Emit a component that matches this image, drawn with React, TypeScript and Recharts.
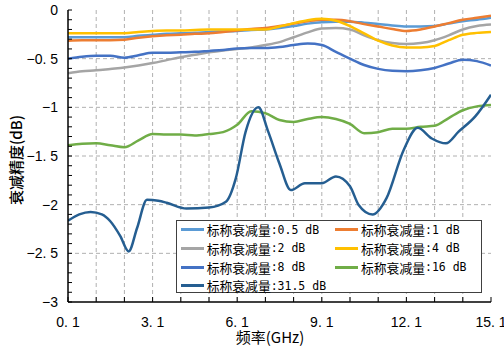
import { LineChart, Line, XAxis, YAxis, CartesianGrid, Legend, Label } from 'recharts'

// frequency grid (GHz) shared by the first six traces
const FREQ = [
  0.1, 0.6, 1.1, 1.6, 2.1, 2.6, 3.1, 3.6, 4.1, 4.6, 5.1, 5.6, 6.1, 6.6, 7.1, 7.6,
  8.1, 8.6, 9.1, 9.6, 10.1, 10.6, 11.1, 11.6, 12.1, 12.6, 13.1, 13.6, 14.1, 14.6, 15.1,
]

const ATT_0_5 = [
  -0.28, -0.28, -0.28, -0.28, -0.28, -0.265, -0.255, -0.245, -0.24, -0.235, -0.225, -0.22, -0.215, -0.205, -0.2, -0.185,
  -0.165, -0.14, -0.125, -0.12, -0.12, -0.13, -0.145, -0.16, -0.17, -0.17, -0.165, -0.14, -0.115, -0.1, -0.08,
]
const ATT_1 = [
  -0.315, -0.31, -0.31, -0.31, -0.305, -0.285, -0.27, -0.26, -0.255, -0.245, -0.24, -0.225, -0.21, -0.195, -0.185, -0.165,
  -0.14, -0.115, -0.1, -0.1, -0.115, -0.145, -0.17, -0.195, -0.215, -0.2, -0.17, -0.135, -0.1, -0.08, -0.06,
]
const ATT_2 = [
  -0.65, -0.63, -0.62, -0.605, -0.59, -0.57, -0.545, -0.515, -0.485, -0.46, -0.435, -0.415, -0.4, -0.385, -0.36, -0.33,
  -0.28, -0.23, -0.19, -0.185, -0.2, -0.26, -0.31, -0.34, -0.35, -0.34, -0.31, -0.26, -0.2, -0.165, -0.15,
]
const ATT_4 = [
  -0.24, -0.24, -0.24, -0.24, -0.24, -0.225, -0.215, -0.21, -0.21, -0.205, -0.2, -0.2, -0.2, -0.2, -0.2, -0.17,
  -0.135, -0.105, -0.09, -0.11, -0.165, -0.24, -0.315, -0.365, -0.385, -0.385, -0.37, -0.31, -0.255, -0.235, -0.225,
]
const ATT_8 = [
  -0.5, -0.48, -0.47, -0.47, -0.49, -0.465, -0.44, -0.44, -0.435, -0.43, -0.42, -0.41, -0.395, -0.39, -0.39, -0.38,
  -0.36, -0.345, -0.36, -0.43, -0.5, -0.565, -0.605, -0.625, -0.63, -0.62, -0.595, -0.55, -0.51, -0.525, -0.57,
]
const ATT_16 = [
  -1.39, -1.375, -1.37, -1.39, -1.41, -1.34, -1.275, -1.28, -1.28, -1.29, -1.275, -1.255, -1.18, -1.04, -1.06, -1.13,
  -1.15, -1.12, -1.1, -1.12, -1.17, -1.265, -1.255, -1.22, -1.22, -1.2, -1.19, -1.11, -1.03, -0.99, -0.975,
]

// 31.5 dB trace has sharper features, sampled on its own frequency points
const FREQ_31_5 = [
  0.1, 0.5, 0.9, 1.3, 1.6, 1.95, 2.25, 2.55, 2.9, 3.3, 3.6, 4.3, 5.1, 5.7, 6.05, 6.4, 6.85,
  7.2, 7.6, 8.0, 8.5, 9.1, 9.6, 10.1, 10.4, 10.9, 11.4, 12.0, 12.5, 13.0, 13.5, 13.95, 14.55, 15.1,
]
const ATT_31_5 = [
  -2.165, -2.1, -2.075, -2.1, -2.17, -2.32, -2.48, -2.24, -1.95, -1.96, -1.98, -2.04, -2.03, -1.97, -1.73, -1.25, -1.0,
  -1.25, -1.58, -1.85, -1.78, -1.78, -1.71, -1.81, -2.0, -2.1, -1.93, -1.44, -1.21, -1.32, -1.37, -1.25, -1.09, -0.87,
]

const X_TICKS = [0.1, 1.1, 2.1, 3.1, 4.1, 5.1, 6.1, 7.1, 8.1, 9.1, 10.1, 11.1, 12.1, 13.1, 14.1, 15.1]
const X_LABELS = [0.1, 3.1, 6.1, 9.1, 12.1, 15.1]
const X_GRID = [1.1, 2.1, 3.1, 4.1, 5.1, 6.1, 7.1, 8.1, 9.1, 10.1, 11.1, 12.1, 13.1, 14.1]
const Y_LABELS = [0, -0.5, -1, -1.5, -2, -2.5, -3]
const Y_GRID = [-0.5, -1, -1.5, -2, -2.5]
// minor ticks every 0.1 dB
const Y_TICKS = Array.from({ length: 31 }, (_, i) => Math.round(-i) / 10)

const PREFIX = '标称衰减量'

const SERIES = [
  { name: '0.5', color: '#5B9BD5', freq: FREQ, values: ATT_0_5 },
  { name: '1', color: '#ED7D31', freq: FREQ, values: ATT_1 },
  { name: '2', color: '#A5A5A5', freq: FREQ, values: ATT_2 },
  { name: '4', color: '#FFC000', freq: FREQ, values: ATT_4 },
  { name: '8', color: '#4472C4', freq: FREQ, values: ATT_8 },
  { name: '16', color: '#70AD47', freq: FREQ, values: ATT_16 },
  { name: '31.5', color: '#255E91', freq: FREQ_31_5, values: ATT_31_5 },
]

const TICK_FONT = '"Liberation Sans", Arial, sans-serif'
const CJK_FONT = '"Noto Sans CJK SC", sans-serif'

const fmtX = (v: number) => v.toFixed(1).replace('.', '. ')
const fmtY = (v: number) => {
  if (v === 0) return '0'
  const a = -v
  return '\u2212' + (Number.isInteger(a) ? String(a) : a.toFixed(1).replace('.', '. '))
}

function XTick({ x, y, payload }: any) {
  const v = payload.value as number
  const show = X_LABELS.some((l) => Math.abs(l - v) < 1e-6)
  return (
    <g>
      <line x1={x} x2={x} y1={y} y2={y - 5} stroke="#000" strokeWidth={1} />
      {show && (
        <text x={x} y={y + 15} dy="0.71em" textAnchor="middle" fontSize={14} fontFamily={TICK_FONT} fill="#000">
          {fmtX(v)}
        </text>
      )}
    </g>
  )
}

function YTick({ x, y, payload }: any) {
  const v = payload.value as number
  const show = Y_LABELS.some((l) => Math.abs(l - v) < 1e-6)
  return (
    <g>
      <line x1={x} x2={x + 4} y1={y} y2={y} stroke="#000" strokeWidth={1} />
      {show && (
        <text x={x - 10} y={y} dy="0.36em" textAnchor="end" fontSize={14} fontFamily={TICK_FONT} fill="#000">
          {fmtY(v)}
        </text>
      )}
    </g>
  )
}

function LegendBox() {
  return (
    <div
      style={{
        position: 'relative', width: 306, height: 73, boxSizing: 'border-box',
        border: '1px solid #404040', background: '#fff',
      }}
    >
      {SERIES.map((s, i) => {
        const col = i % 2
        const row = Math.floor(i / 2)
        return (
          <div
            key={s.name}
            style={{
              position: 'absolute', left: 3.7 + col * 154.3, top: -1 + row * 18.8, height: 19,
              display: 'flex', alignItems: 'center', whiteSpace: 'nowrap', color: '#000',
            }}
          >
            <span style={{ display: 'inline-block', width: 23, height: 3, background: s.color, marginRight: 3 }} />
            <span style={{ fontFamily: CJK_FONT, fontSize: 12.8 }}>{PREFIX}</span>
            <span style={{ fontFamily: '"DejaVu Sans Mono", monospace', fontSize: 11.5 }}>{`:${s.name} dB`}</span>
          </div>
        )
      })}
    </div>
  )
}

export default function App() {
  return (
    <div style={{ position: 'absolute', left: 0, top: 0, width: 504, height: 346, background: '#fff' }}>
      <LineChart width={504} height={346} margin={{ top: 10, right: 13, bottom: 14, left: 0 }}>
        <CartesianGrid
          stroke="#b0b0b0"
          strokeDasharray="4 3"
          horizontalValues={Y_GRID}
          verticalValues={X_GRID}
        />
        <XAxis
          dataKey="f"
          type="number"
          domain={[0.1, 15.1]}
          ticks={X_TICKS}
          interval={0}
          height={30}
          tickSize={0}
          tickMargin={0}
          tick={<XTick />}
          axisLine={{ stroke: '#000', strokeWidth: 1.5 }}
          allowDataOverflow
        >
          <Label
            content={() => (
              <text x={270} y={336} textAnchor="middle" dominantBaseline="central" fontSize={15} fontFamily={CJK_FONT} fill="#000">
                频率(GHz)
              </text>
            )}
          />
        </XAxis>
        <XAxis
          xAxisId="top"
          orientation="top"
          type="number"
          domain={[0.1, 15.1]}
          height={0}
          tick={false}
          tickLine={false}
          axisLine={{ stroke: '#404040' }}
        />
        <YAxis
          type="number"
          domain={[-3, 0]}
          ticks={Y_TICKS}
          interval={0}
          width={68}
          tickSize={0}
          tickMargin={0}
          tick={<YTick />}
          axisLine={{ stroke: '#000', strokeWidth: 1.5 }}
          allowDataOverflow
        >
          <Label
            content={() => (
              <text
                x={15}
                y={160}
                transform="rotate(-90 15 160)"
                textAnchor="middle"
                dominantBaseline="central"
                fontSize={15}
                fontWeight={500}
                fontFamily={CJK_FONT}
                fill="#000"
              >
                衰减精度(dB)
              </text>
            )}
          />
        </YAxis>
        <YAxis
          yAxisId="right"
          orientation="right"
          type="number"
          domain={[-3, 0]}
          width={0}
          tick={false}
          tickLine={false}
          axisLine={{ stroke: '#404040' }}
        />
        {SERIES.map((s) => (
          <Line
            key={s.name}
            data={s.freq.map((f, i) => ({ f, v: s.values[i] }))}
            dataKey="v"
            type="monotone"
            stroke={s.color}
            strokeWidth={2.5}
            dot={false}
            activeDot={false}
            isAnimationActive={false}
          />
        ))}
        <Legend
          layout="vertical"
          align="center"
          verticalAlign="middle"
          content={() => <LegendBox />}
          wrapperStyle={{ left: 176, top: 220, width: 306, height: 73 }}
        />
      </LineChart>
    </div>
  )
}
